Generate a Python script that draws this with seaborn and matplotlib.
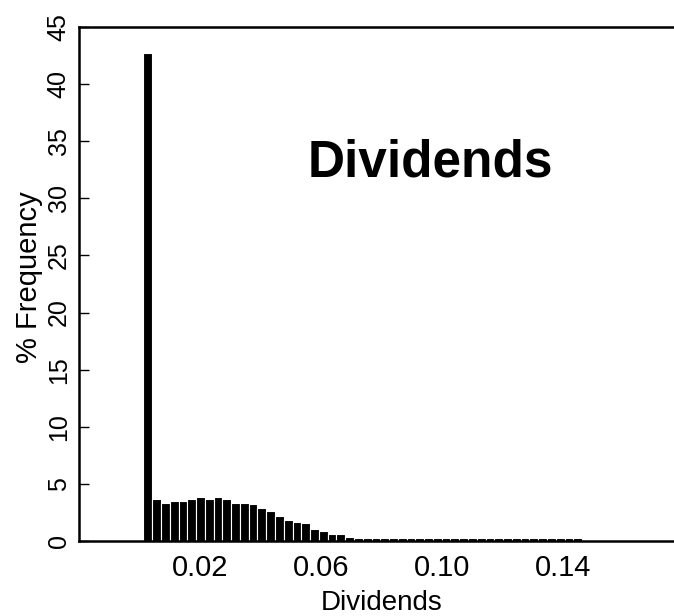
import numpy as np
import pandas as pd
import matplotlib
matplotlib.use('Agg')
import matplotlib.pyplot as plt
import seaborn as sns

# Histogram of dividends, % frequency per bin
bin_start = 0.0013
bin_width = 0.0029
pct_frequency = [42.7, 3.65, 3.36, 3.53, 3.53, 3.68, 3.82, 3.68, 3.85, 3.65,
                 3.36, 3.36, 3.21, 2.86, 2.65, 2.19, 1.84, 1.69, 1.55, 1.02,
                 0.88, 0.58, 0.58, 0.32, 0.25, 0.25, 0.25, 0.25, 0.22, 0.25,
                 0.25, 0.25, 0.25, 0.22, 0.25, 0.25, 0.25, 0.25, 0.25, 0.22,
                 0.25, 0.25, 0.25, 0.25, 0.25, 0.25, 0.22, 0.25, 0.25, 0.25]
x_ticks = [0.02, 0.06, 0.10, 0.14]
x_tick_labels = ['0.02', '0.06', '0.10', '0.14']
y_ticks = [0, 5, 10, 15, 20, 25, 30, 35, 40, 45]

n_bins = len(pct_frequency)
edges = [bin_start + bin_width * i for i in range(n_bins + 1)]
df = pd.DataFrame({
    'dividend': [(edges[i] + edges[i + 1]) / 2 for i in range(n_bins)],
    'pct': pct_frequency,
})

sns.set_style('white')
plt.rcParams['font.family'] = ['Liberation Sans', 'DejaVu Sans']
plt.rcParams['text.color'] = 'black'
plt.rcParams['xtick.color'] = 'black'
plt.rcParams['ytick.color'] = 'black'
plt.rcParams['axes.labelcolor'] = 'black'

fig = plt.figure(figsize=(6.74, 6.16), dpi=100)
# axes run past the right edge of the picture, like the reference crop
ax = fig.add_axes([79 / 674, 75 / 616, 605 / 674, 514 / 616])

sns.histplot(data=df, x='dividend', weights='pct', bins=edges, ax=ax,
             color='black', edgecolor='white', linewidth=0.8, alpha=1)

ax.set_xlim(-0.02, 0.18)
ax.set_ylim(0, 45)

ax.set_xticks(x_ticks)
ax.set_xticklabels(x_tick_labels, fontsize=21)
ax.set_yticks(y_ticks)
ax.set_yticklabels([str(v) for v in y_ticks], fontsize=18, rotation=90, va='center')
ax.tick_params(axis='x', length=0, pad=9)
ax.tick_params(axis='y', direction='in', length=7, width=1, pad=6, left=True)

ax.set_xlabel('Dividends', fontsize=20, labelpad=6)
ax.set_ylabel('% Frequency', fontsize=21)
ax.yaxis.set_label_coords(-0.06, 0.514)

for side in ['left', 'bottom', 'top', 'right']:
    ax.spines[side].set_linewidth(1.8)
    ax.spines[side].set_color('black')

ax.text(0.096, 31.9, 'Dividends', fontsize=37, fontweight='bold',
        ha='center', va='baseline')

fig.savefig('out.png', dpi=100)
